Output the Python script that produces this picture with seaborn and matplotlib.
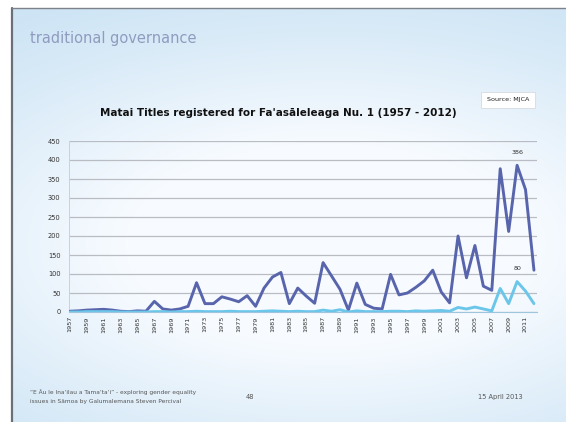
import numpy as np
import pandas as pd
import matplotlib
matplotlib.use("Agg")
import matplotlib.pyplot as plt
import seaborn as sns

# Matai titles registered per year, Fa'asāleleaga Nu. 1
years = list(range(1957, 2013))
total_titles = [2, 3, 5, 6, 7, 5, 2, 1, 3, 2,
                28, 8, 5, 8, 15, 77, 22, 22, 40, 34,
                27, 43, 15, 63, 92, 104, 22, 63, 42, 23,
                130, 95, 60, 5, 76, 20, 10, 8, 99, 45,
                50, 65, 82, 110, 53, 24, 200, 90, 175, 68,
                57, 377, 212, 386, 322, 110]
women_titles = [0, 0, 1, 1, 1, 1, 0, 0, 0, 0,
                1, 1, 0, 1, 1, 2, 1, 1, 1, 2,
                1, 1, 1, 2, 3, 2, 1, 2, 1, 1,
                5, 2, 6, 0, 3, 1, 1, 1, 2, 2,
                1, 3, 2, 3, 4, 2, 12, 8, 13, 8,
                3, 62, 22, 80, 55, 22]
series_names = ["Total", "Women"]
series_colors = ["#5865ac", "#6cc6ea"]
y_ticks = list(range(0, 451, 50))
x_ticks = list(range(1957, 2012, 2))

df = pd.DataFrame({
    "year": years * 2,
    "titles": total_titles + women_titles,
    "series": [series_names[0]] * len(years) + [series_names[1]] * len(years),
})

sns.set_theme(style="white")
plt.rcParams["font.family"] = ["DejaVu Sans"]

W, H = 566, 422
fig = plt.figure(figsize=(W / 100, H / 100), dpi=100)

# slide background: soft blue gradient with a pale glow in the middle
bg = fig.add_axes([0, 0, 1, 1], zorder=-10)
yy, xx = np.mgrid[0:1:H * 1j, 0:1:W * 1j]
glow = np.exp(-(((xx - 0.58) / 0.75) ** 2 + ((yy - 0.58) / 0.5) ** 2))
base = np.array([0.76, 0.87, 0.95])
light = np.array([0.97, 0.985, 1.0])
t = np.clip(glow * 1.25, 0, 1)[..., None]
img = base * (1 - t) + light * t
# white margin outside the slide frame
img[:8, :, :] = 1.0
img[:, :11, :] = 1.0
bg.imshow(img, extent=[0, W, H, 0], aspect="auto", interpolation="bilinear")
bg.plot([12, 12], [8, H], color="#6b6f78", lw=1.6)
bg.plot([12, W], [8, 8], color="#7d818a", lw=1.0)
bg.set_xlim(0, W)
bg.set_ylim(H, 0)
bg.axis("off")

fig.text(30 / W, 1 - 38 / H, "traditional governance", fontsize=10.5,
         color="#8f9cbf", va="center", ha="left")
fig.text(278 / W, 1 - 113 / H, "Matai Titles registered for Fa'asāleleaga Nu. 1 (1957 - 2012)",
         fontsize=7.5, fontweight="bold", color="#111111", ha="center", va="center")
fig.text(508 / W, 1 - 100 / H, "Source: MJCA", fontsize=4.6, color="#222222",
         ha="center", va="center",
         bbox=dict(boxstyle="square,pad=0.9", fc="white", ec="#d6dbe2", lw=0.6))

ax = fig.add_axes([69 / W, 1 - 312 / H, (537 - 69) / W, (312 - 141) / H])
ax.patch.set_alpha(0)
sns.lineplot(data=df, x="year", y="titles", hue="series", hue_order=series_names,
             palette=series_colors, linewidth=2.1, ax=ax, legend=False, zorder=3)

ax.set_xlim(1956.88, 2012.36)
ax.set_ylim(0, 450)
ax.set_yticks(y_ticks)
ax.set_xticks(x_ticks)
ax.set_xticklabels([str(v) for v in x_ticks], rotation=90, fontsize=4.6, color="#333333")
ax.tick_params(axis="y", labelsize=4.8, labelcolor="#333333", length=0, pad=6)
ax.tick_params(axis="x", length=0, pad=3)
ax.yaxis.grid(True, color="#b9bcc2", lw=0.9)
ax.xaxis.grid(False)
for side in ["top", "right"]:
    ax.spines[side].set_visible(False)
ax.spines["left"].set_color("#c9d2dc")
ax.spines["left"].set_linewidth(0.7)
ax.spines["bottom"].set_color("#9fc4de")
ax.spines["bottom"].set_linewidth(0.8)
ax.set_xlabel("")
ax.set_ylabel("")

# value labels on the peak year
peak = years.index(2010)
ax.annotate(str(total_titles[peak]), (2010, total_titles[peak]), xytext=(0, 8),
            textcoords="offset points", ha="center", fontsize=4.6, color="#333333")
ax.annotate(str(women_titles[peak]), (2010, women_titles[peak]), xytext=(0, 8),
            textcoords="offset points", ha="center", fontsize=4.6, color="#333333")

fig.text(30 / W, 1 - 392 / H, "“E Āu le Ina‘ilau a Tama‘ta‘i” - exploring gender equality",
         fontsize=4.2, color="#555555", va="center", ha="left")
fig.text(30 / W, 1 - 401 / H, "issues in Sāmoa by Galumalemana Steven Percival",
         fontsize=4.2, color="#555555", va="center", ha="left")
fig.text(250 / W, 1 - 397 / H, "48", fontsize=4.8, color="#555555", va="center", ha="center")
fig.text(500 / W, 1 - 397 / H, "15 April 2013", fontsize=4.8, color="#555555",
         va="center", ha="center")

fig.savefig("out.png", dpi=100)
